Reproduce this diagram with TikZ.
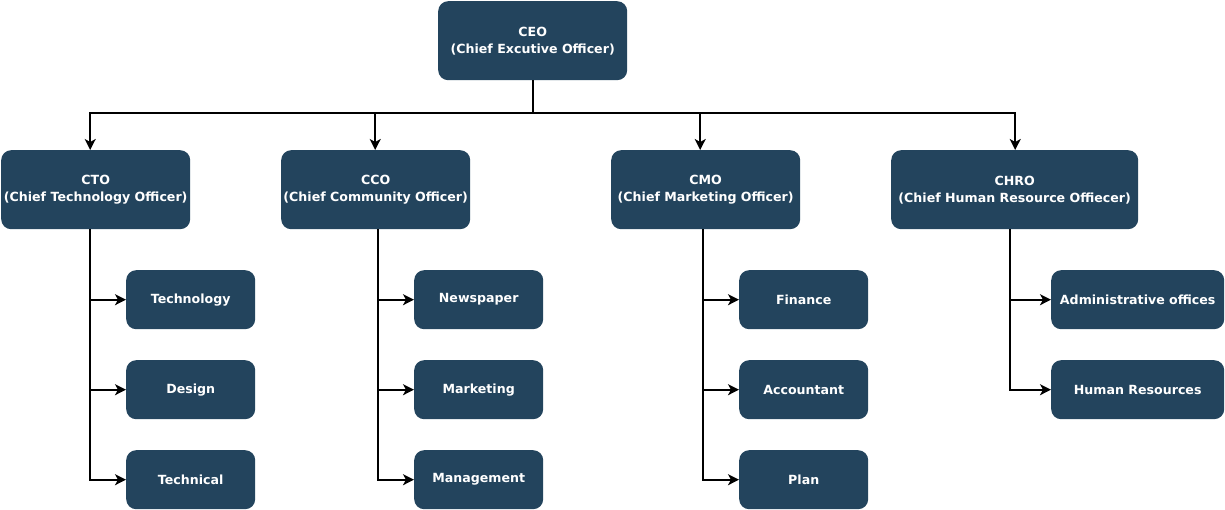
\documentclass[tikz,border=0pt]{standalone}
\usepackage{fontspec}
\newfontfamily\boxfont{DejaVu Sans}
\usetikzlibrary{arrows.meta,positioning}
\definecolor{boxblue}{HTML}{23445D}
\tikzset{
  x=1pt,y=1pt,
  box/.style={draw=none, fill=boxblue, rounded corners=10pt, text=white, align=center,
    inner sep=0pt, anchor=north west,
    font=\boxfont\bfseries\fontsize{12.6}{17}\selectfont},
  topbox/.style={box, minimum width=189pt, minimum height=79pt},
  wtopbox/.style={box, minimum width=247pt, minimum height=79pt},
  subbox/.style={box, minimum width=129pt, minimum height=59pt},
  wsubbox/.style={box, minimum width=173pt, minimum height=59pt},
  arr/.style={draw=black, line width=1.8pt, -{Stealth[length=11pt,width=11pt,inset=3pt]}},
  ln/.style={draw=black, line width=1.8pt},
}
\begin{document}
\begin{tikzpicture}
\useasboundingbox (0,0) rectangle (1225,-510);
\node[topbox] (ceo) at (438,-1) {CEO\\(Chief Excutive Officer)};
\node[topbox] (cto) at (1,-150) {CTO\\(Chief Technology Officer)};
\node[topbox] (cco) at (281,-150) {CCO\\(Chief Community Officer)};
\node[topbox] (cmo) at (611,-150) {CMO\\(Chief Marketing Officer)};
\node[wtopbox] (chro) at (891,-150) {CHRO\\(Chief Human Resource Offiecer)};

\node[subbox] (tech) at (126,-270) {Technology};
\node[subbox] (design) at (126,-360) {Design};
\node[subbox] (technical) at (126,-450) {Technical};

\node[subbox] (news) at (414,-270) {Newspaper};
\node[subbox] (mark) at (414,-360) {Marketing};
\node[subbox] (mgmt) at (414,-450) {Management};

\node[subbox] (fin) at (739,-270) {Finance};
\node[subbox] (acc) at (739,-360) {Accountant};
\node[subbox] (plan) at (739,-450) {Plan};

\node[wsubbox] (admin) at (1051,-270) {Administrative offices};
\node[wsubbox] (hr) at (1051,-360) {Human Resources};

\coordinate (bus) at (532,-113);
\draw[ln] (ceo.south) -- (ceo.south |- bus);
\draw[arr] (ceo.south |- bus) -| ([xshift=-5.5pt]cto.north);
\draw[arr] (ceo.south |- bus) -| ([xshift=-0.5pt]cco.north);
\draw[arr] (ceo.south |- bus) -| ([xshift=-5.5pt]cmo.north);
\draw[arr] (ceo.south |- bus) -| ([xshift=0.5pt]chro.north);

\draw[arr] ([xshift=-5.5pt]cto.south) |- (tech.west);
\draw[arr] ([xshift=-5.5pt]cto.south) |- (design.west);
\draw[arr] ([xshift=-5.5pt]cto.south) |- (technical.west);

\draw[arr] ([xshift=2.5pt]cco.south) |- (news.west);
\draw[arr] ([xshift=2.5pt]cco.south) |- (mark.west);
\draw[arr] ([xshift=2.5pt]cco.south) |- (mgmt.west);

\draw[arr] ([xshift=-2.5pt]cmo.south) |- (fin.west);
\draw[arr] ([xshift=-2.5pt]cmo.south) |- (acc.west);
\draw[arr] ([xshift=-2.5pt]cmo.south) |- (plan.west);

\draw[arr] ([xshift=-4.5pt]chro.south) |- (admin.west);
\draw[arr] ([xshift=-4.5pt]chro.south) |- (hr.west);
\end{tikzpicture}
\end{document}
